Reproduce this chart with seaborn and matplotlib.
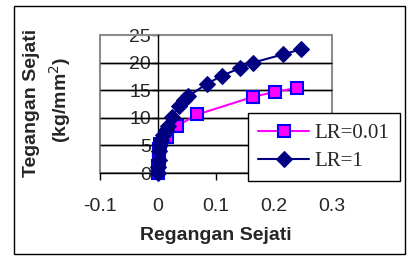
import matplotlib
matplotlib.use("Agg")
import matplotlib.pyplot as plt
import seaborn as sns
from matplotlib.patches import Rectangle
from matplotlib.lines import Line2D

# --- data ---
x_lr001 = [0, 0.0005, 0.001, 0.0015, 0.002, 0.003, 0.016, 0.032, 0.068, 0.164, 0.202, 0.239]
y_lr001 = [0, 1.2, 2.4, 3.5, 4.4, 5.2, 6.6, 8.5, 10.6, 13.8, 14.7, 15.4]

x_lr1 = [0, 0.0005, 0.001, 0.002, 0.004, 0.006, 0.009, 0.013, 0.018, 0.024,
         0.036, 0.044, 0.052, 0.085, 0.110, 0.141, 0.164, 0.216, 0.246]
y_lr1 = [0, 1.1, 2.4, 3.9, 5.0, 6.0, 6.9, 7.8, 8.6, 10.2,
         12.1, 13.2, 13.9, 16.2, 17.6, 19.0, 20.0, 21.5, 22.4]

x_ticks = [-0.1, 0, 0.1, 0.2, 0.3]
x_ticklabels = ["-0.1", "0", "0.1", "0.2", "0.3"]
y_ticks = [0, 5, 10, 15, 20, 25]

sns.set_theme(style="white")
plt.rcParams['font.family'] = ['Liberation Sans', 'DejaVu Sans']

fig = plt.figure(figsize=(4.09, 2.63), dpi=100, facecolor="white")
ax = fig.add_axes([100 / 409, 1 - 173 / 263, 232 / 409, 138 / 263])
ax.set_facecolor("none")  # so the gridlines behind the axes show through

sns.lineplot(x=x_lr001, y=y_lr001, ax=ax, sort=False, color="#FF00FF", lw=1.5,
             marker="s", markersize=8, markerfacecolor="#FF00FF",
             markeredgecolor="#0000FF", markeredgewidth=1.5, clip_on=False,
             label="LR=0.01", zorder=3)
sns.lineplot(x=x_lr1, y=y_lr1, ax=ax, sort=False, color="#000080", lw=1.5,
             marker="D", markersize=8, markerfacecolor="#000080",
             markeredgecolor="#000080", clip_on=False, label="LR=1", zorder=4)

# plot-area border in gray, axes through origin in black
for s in ["top", "right"]:
    ax.spines[s].set_visible(False)
ax.spines["left"].set_position(("data", 0))
ax.spines["left"].set_color("black")
ax.spines["left"].set_linewidth(1)
ax.spines["bottom"].set_color("black")
ax.spines["bottom"].set_linewidth(1)
ax.add_patch(Rectangle((0, 0), 1, 1, transform=ax.transAxes, fill=False,
                       edgecolor="#8c8c8c", lw=1.5, zorder=1, clip_on=False))

ax.set_xlim(-0.1, 0.3)
ax.set_ylim(0, 25)
ax.set_xticks(x_ticks)
ax.set_xticklabels(x_ticklabels)
ax.set_yticks(y_ticks)

# horizontal gridlines in black, placed through the data transform
ax.hlines(y_ticks[1:-1], x_ticks[0], x_ticks[-1], colors="black",
          linewidth=1, zorder=2, clip_on=False)
for yv in y_ticks[1:-1]:
    fig.add_artist(Line2D([x_ticks[0], x_ticks[-1]], [yv, yv],
                          transform=ax.transData, color="black", lw=1,
                          zorder=-1, clip_on=False))

ax.tick_params(axis="x", direction="out", length=5, width=1, color="black",
               bottom=True, labelsize=14, pad=13)
ax.tick_params(axis="y", direction="out", length=4, width=1, color="black",
               left=True, labelsize=14, pad=1)

ax.set_xlabel("Regangan Sejati", fontsize=14, fontweight="bold", labelpad=9)
ax.set_ylabel("")
fig.text(32 / 409, 1 - 103 / 263, "Tegangan Sejati", rotation=90, fontsize=14,
         fontweight="bold", ha="center", va="center")
fig.text(60 / 409, 1 - 100 / 263, "(kg/mm$^2$)", rotation=90, fontsize=14,
         fontweight="bold", ha="center", va="center")

leg = ax.legend(loc="upper left", bbox_to_anchor=(248 / 409, 1 - 113 / 263),
                bbox_transform=fig.transFigure, frameon=True, fancybox=False,
                prop={"family": "Liberation Serif", "size": 15},
                borderpad=0.5, labelspacing=0.4, handlelength=2.45,
                handletextpad=0.25, borderaxespad=0, framealpha=1)
leg.get_frame().set_edgecolor("black")
leg.get_frame().set_facecolor("white")
leg.get_frame().set_linewidth(1)
leg.set_zorder(10)

# outer chart border
fig.patches.append(Rectangle((14 / 409, 1 - 254 / 263), 391 / 409, 248 / 263,
                             transform=fig.transFigure, fill=False,
                             edgecolor="black", lw=1))

fig.savefig("out.png", dpi=100, facecolor="white")
